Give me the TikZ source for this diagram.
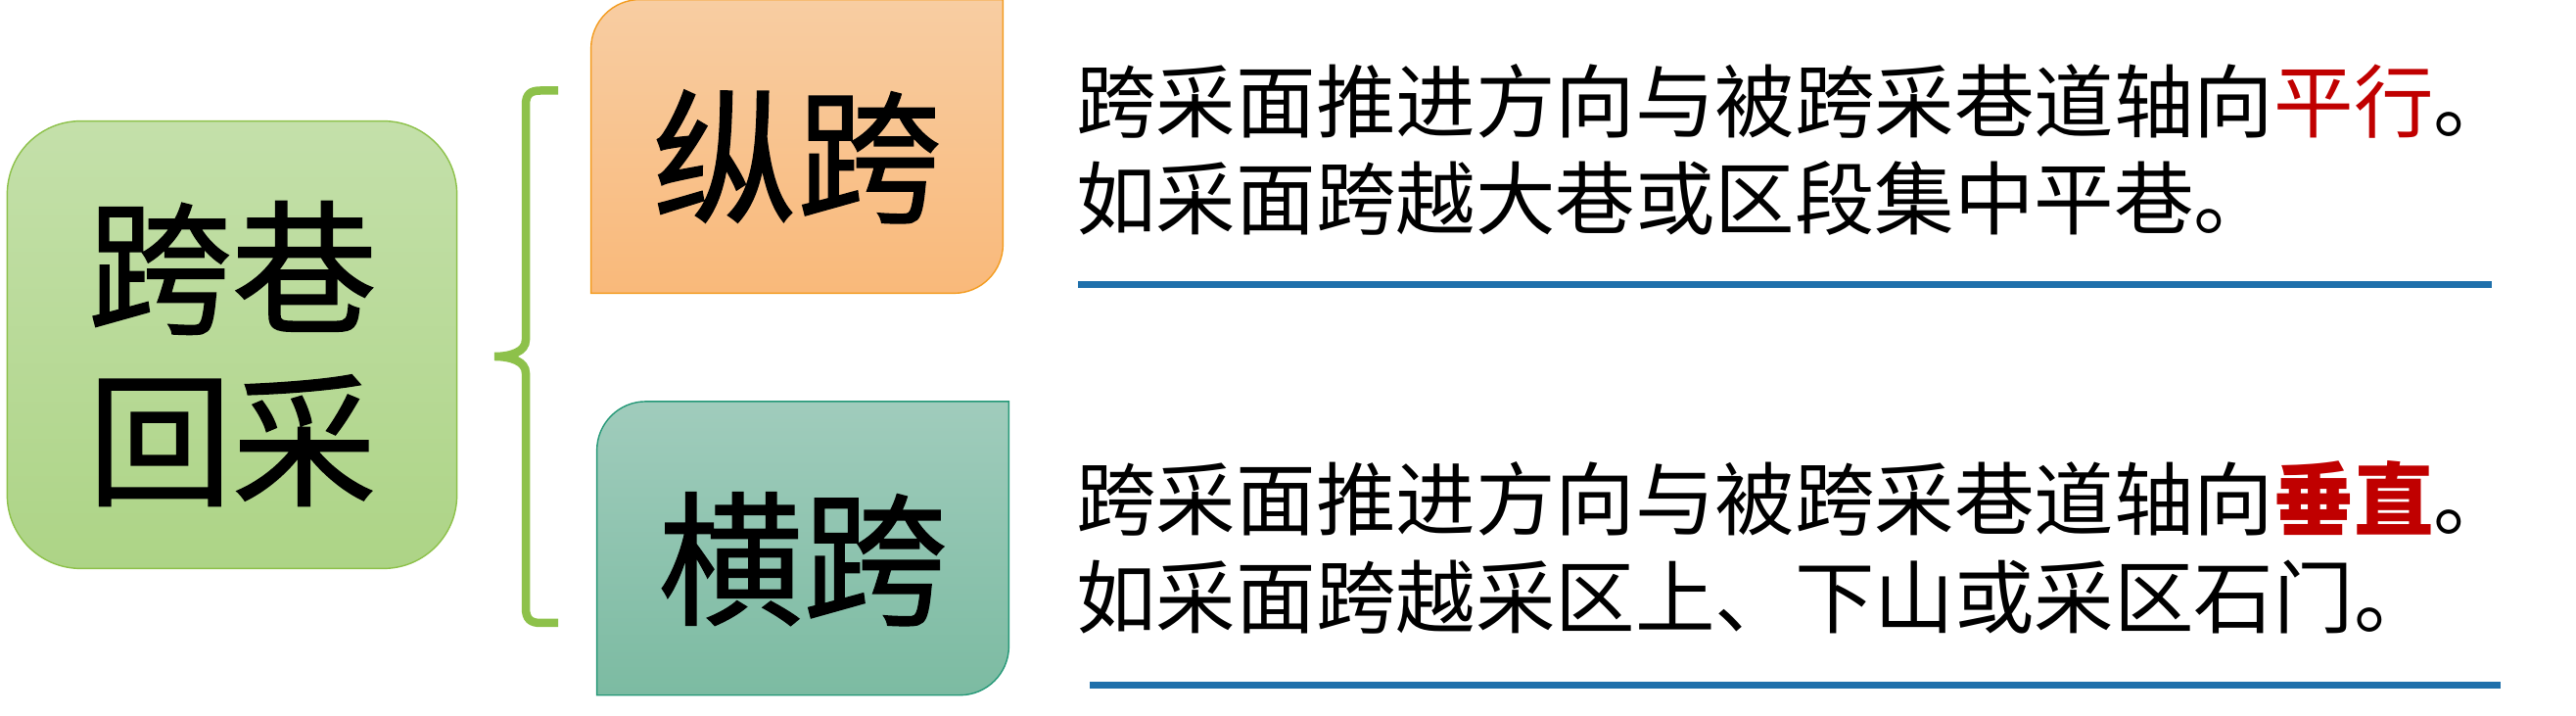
\documentclass[tikz,border=0pt]{standalone}
\usepackage{fontspec}
\usepackage{tikz}
\usetikzlibrary{positioning,backgrounds}
\newfontfamily\cjk{Noto Sans CJK SC}
\newfontfamily\cjkheavy[FakeBold=1]{Noto Sans CJK SC}
\definecolor{rootTop}{RGB}{196,224,170}
\definecolor{rootBot}{RGB}{173,212,134}
\definecolor{leafGreen}{RGB}{141,193,74}
\definecolor{zongTop}{RGB}{248,205,162}
\definecolor{zongBot}{RGB}{249,185,122}
\definecolor{zongLine}{RGB}{243,156,32}
\definecolor{hengTop}{RGB}{160,204,188}
\definecolor{hengBot}{RGB}{124,187,162}
\definecolor{hengLine}{RGB}{38,153,120}
\definecolor{ruleBlue}{RGB}{31,112,171}
\definecolor{accentRed}{RGB}{192,0,0}

\begin{document}
\begin{tikzpicture}[box/.style={inner sep=0pt, font=\cjkheavy\fontsize{42}{50}\selectfont},
						leaf/.style={box, minimum width=4.18cm, minimum height=2.97cm},
						desc/.style={anchor=base west, inner sep=0pt, font=\cjk\fontsize{23.2}{28}\selectfont},
						rule/.style={line width=0.07cm, ruleBlue},
						bracket/.style={line width=0.085cm, leafGreen},
						thick]
		\useasboundingbox (0,0) rectangle (26.31,7.31);
		\node[box, minimum width=4.565cm, minimum height=4.54cm, align=center] (root) at (2.37,3.70) {跨巷\\回采};
		\node[leaf] (zong) at (8.14,5.71) {纵跨};
		\node[leaf, below=1.11cm of zong, xshift=0.06cm] (heng) {横跨};
		\begin{scope}[on background layer, line width=0.03cm]
			\shade[draw=leafGreen, top color=rootTop, bottom color=rootBot, rounded corners=0.75cm]
				([yshift=0.09cm]root.south west) rectangle ([yshift=0.09cm]root.north east);
			\shade[draw=zongLine, top color=zongTop, bottom color=zongBot]
				([yshift=0.105cm]zong.south west) -- ([yshift=-0.395cm]zong.north west)
				arc[start angle=180, end angle=90, radius=0.5cm] -- ([yshift=0.105cm]zong.north east)
				-- ([yshift=0.605cm]zong.south east) arc[start angle=0, end angle=-90, radius=0.5cm] -- cycle;
			\shade[draw=hengLine, top color=hengTop, bottom color=hengBot]
				([yshift=0.11cm]heng.south west) -- ([yshift=-0.39cm]heng.north west)
				arc[start angle=180, end angle=90, radius=0.5cm] -- ([yshift=0.11cm]heng.north east)
				-- ([yshift=0.61cm]heng.south east) arc[start angle=0, end angle=-90, radius=0.5cm] -- cycle;
		\end{scope}
		\draw[bracket] (5.70,6.385) -- (5.52,6.385) .. controls (5.42,6.385) and (5.37,6.35) .. (5.37,6.24)
			-- (5.37,3.84) .. controls (5.37,3.72) and (5.22,3.67) .. (5.05,3.67)
			.. controls (5.22,3.67) and (5.37,3.62) .. (5.37,3.50)
			-- (5.37,1.10) .. controls (5.37,0.99) and (5.42,0.95) .. (5.52,0.95) -- (5.70,0.95);
		\node[desc] (zongA) at (10.98,5.969) {跨采面推进方向与被跨采巷道轴向\textcolor{accentRed}{平行}。};
		\node[desc, below=0.99cm of zongA.base west, anchor=base west] (zongB) {如采面跨越大巷或区段集中平巷。};
		\node[desc] (hengA) at (10.98,1.904) {跨采面推进方向与被跨采巷道轴向\textcolor{accentRed}{\bfseries 垂直}。};
		\node[desc, below=1cm of hengA.base west, anchor=base west] (hengB) {如采面跨越采区上、下山或采区石门。};
		\draw[rule] ([xshift=0.03cm, yshift=-0.579cm]zongB.base west) -- ++(14.44,0);
		\draw[rule] ([xshift=0.15cm, yshift=-0.594cm]hengB.base west) -- ++(14.41,0);
	\end{tikzpicture}
\end{document}
